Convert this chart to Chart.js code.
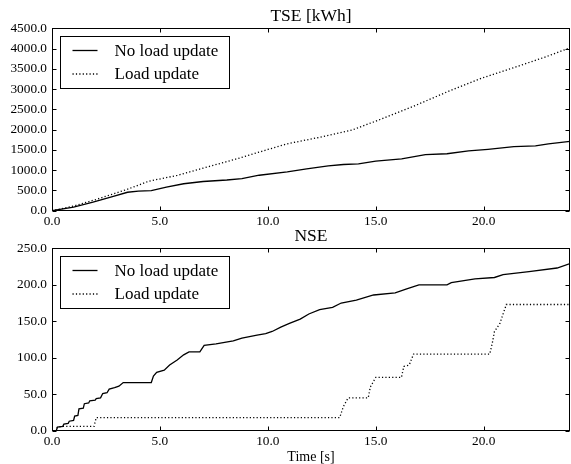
<!DOCTYPE html>
<html><head><meta charset="utf-8">
<script src="https://cdn.jsdelivr.net/npm/chart.js@4/dist/chart.umd.min.js"></script>
<style>
html,body{margin:0;padding:0;background:#fff;}
#wrap{position:relative;width:571px;height:464px;overflow:hidden;}
canvas{position:absolute;left:0;}
</style></head><body>
<div id="wrap">
<canvas id="c1" width="571" height="232" style="top:0"></canvas>
<canvas id="c2" width="571" height="244" style="top:220px"></canvas>
</div>
<script>
// ---- data ----
const seriesLabels = ["No load update", "Load update"];
const xTickValues = [0, 5, 10, 15, 20];
const tseTickValues = [0, 500, 1000, 1500, 2000, 2500, 3000, 3500, 4000, 4500];
const nseTickValues = [0, 50, 100, 150, 200, 250];

const tseNoUpdT = [0,1,1.9,2.8,3.5,4.0,4.6,5.3,6.1,7.0,8.1,8.8,9.6,10.9,11.8,12.8,13.5,14.2,15.0,16.2,17.3,18.3,19.3,20.2,21.4,22.4,23,24];
const tseNoUpdV = [0,90,210,345,455,485,495,580,665,720,757,790,875,960,1030,1105,1140,1155,1225,1280,1385,1405,1475,1515,1580,1600,1650,1710];
const tseUpdT = [0,1,2,2.7,3.5,4.5,5.8,7,8.5,10,10.9,12.3,13.9,15.2,16.7,18.3,19.8,21.4,22.9,24];
const tseUpdV = [0,115,270,390,530,730,870,1050,1270,1510,1650,1800,1990,2250,2565,2930,3250,3530,3800,4020];

const nseNoUpdT = [0,0.2,0.25,0.5,0.55,0.75,0.8,1.0,1.05,1.2,1.25,1.45,1.5,1.7,1.75,2.0,2.05,2.25,2.35,2.55,2.65,2.9,3.1,3.3,4.6,4.7,4.85,5.2,5.45,5.8,6.1,6.35,6.85,7.05,7.6,8.0,8.4,8.8,9.5,9.9,10.2,10.6,11.0,11.5,11.9,12.4,13.0,13.4,14.1,14.9,15.9,16.4,17.0,18.3,18.5,19.6,20.5,20.9,22.1,23.4,24];
const nseNoUpdV = [0,0,5,6,9,10,13,14,20,21,30,31,37,38,41,42,44,45,51,52,57,59,61,66,66,75,80,83,90,97,104,108,108,117,119,121,123,127,131,133,136,142,147,153,160,166,169,175,179,186,189,194,200,200,203,208,210,214,218,223,229];
const nseUpdT = [0,0.2,0.25,0.5,1.95,2.05,13.33,13.5,13.72,14.65,14.75,15.0,16.19,16.3,16.55,16.75,20.28,20.4,20.5,20.75,21.05,24];
const nseUpdV = [0,0,5,6,6,18,18,33,45,45,60,73,73,88,90,105,105,120,136,147,173,173];

// ---- helpers ----
const FONT = "'Liberation Serif', 'DejaVu Serif', serif";
const pts = (ts, vs) => ts.map((t, i) => ({x: t, y: vs[i]}));

const frameTicks = {
  id: 'frameTicks',
  afterDatasetsDraw(chart) {
    const {ctx, chartArea: a, scales: {x, y}} = chart;
    ctx.save();
    ctx.strokeStyle = '#000';
    ctx.lineWidth = 1;
    const L = Math.round(a.left) + 0.5, R = Math.round(a.right) - 0.5;
    const T = Math.round(a.top) + 0.5, B = Math.round(a.bottom) - 0.5;
    ctx.strokeRect(L, T, R - L, B - T);
    ctx.beginPath();
    x.ticks.forEach(t => {
      const px = Math.round(x.getPixelForValue(t.value)) + 0.5;
      ctx.moveTo(px, B); ctx.lineTo(px, B - 4);
      ctx.moveTo(px, T); ctx.lineTo(px, T + 4);
    });
    y.ticks.forEach(t => {
      const py = Math.round(y.getPixelForValue(t.value)) + 0.5;
      ctx.moveTo(L, py); ctx.lineTo(L + 4, py);
      ctx.moveTo(R, py); ctx.lineTo(R - 4, py);
    });
    ctx.stroke();
    ctx.restore();
  }
};

const boxLegend = {
  id: 'boxLegend',
  afterDraw(chart) {
    const {ctx, chartArea: a} = chart;
    const bx = Math.round(a.left + 8) + 0.5, by = Math.round(a.top + 8) + 0.5;
    const bw = 169, bh = 52;
    ctx.save();
    ctx.fillStyle = '#fff';
    ctx.fillRect(bx, by, bw, bh);
    ctx.strokeStyle = '#000';
    ctx.lineWidth = 1;
    ctx.strokeRect(bx, by, bw, bh);
    chart.data.datasets.forEach((ds, i) => {
      const yy = by + 14 + i * 23.5;
      ctx.beginPath();
      ctx.setLineDash(ds.borderDash || []);
      ctx.lineWidth = ds.borderWidth;
      ctx.strokeStyle = ds.borderColor;
      ctx.moveTo(bx + 12, yy); ctx.lineTo(bx + 37, yy);
      ctx.stroke();
      ctx.setLineDash([]);
      ctx.fillStyle = '#000';
      ctx.font = "17px " + FONT;
      ctx.textBaseline = 'middle';
      ctx.textAlign = 'left';
      ctx.fillText(ds.label, bx + 54, yy + 1);
    });
    ctx.restore();
  }
};

function makeChart(id, title, dsA, dsB, yMax, yTicks, canvasH, showXTitle) {
  return new Chart(document.getElementById(id), {
    type: 'line',
    data: {
      datasets: [
        {label: seriesLabels[0], data: dsA, borderColor: '#000', borderWidth: 1.3, pointRadius: 0, tension: 0, fill: false},
        {label: seriesLabels[1], data: dsB, borderColor: '#000', borderWidth: 1.3, borderDash: [1.2, 2.2], pointRadius: 0, tension: 0, fill: false}
      ]
    },
    options: {
      responsive: false,
      animation: false,
      devicePixelRatio: 1,
      layout: {padding: {left: 0, right: 1, top: 0, bottom: 0}},
      plugins: {
        legend: {display: false},
        tooltip: {enabled: false},
        title: {
          display: true, text: title, fullSize: false, color: '#000',
          font: {family: FONT, size: 17.5, weight: 'normal', lineHeight: 1.2},
          padding: {top: 6, bottom: 1.3}
        }
      },
      scales: {
        x: {
          type: 'linear', min: 0, max: 24,
          grid: {display: false, drawTicks: false},
          border: {display: false},
          afterBuildTicks: s => { s.ticks = xTickValues.map(v => ({value: v})); },
          afterFit: s => { s.height = canvasH - 210.7; },
          ticks: {color: '#000', padding: 3, maxRotation: 0, font: {family: FONT, size: 13.3}, callback: v => Number(v).toFixed(1)},
          title: {display: showXTitle, text: 'Time [s]', color: '#000', font: {family: FONT, size: 14, lineHeight: 1}, padding: {top: 0, bottom: 0}}
        },
        y: {
          type: 'linear', min: 0, max: yMax,
          grid: {display: false, drawTicks: false},
          border: {display: false},
          afterBuildTicks: s => { s.ticks = yTicks.map(v => ({value: v})); },
          afterFit: s => { s.width = 52; },
          ticks: {color: '#000', padding: 5, font: {family: FONT, size: 13.3}, callback: v => Number(v).toFixed(1)}
        }
      }
    },
    plugins: [frameTicks, boxLegend]
  });
}

makeChart('c1', 'TSE [kWh]', pts(tseNoUpdT, tseNoUpdV), pts(tseUpdT, tseUpdV), 4500, tseTickValues, 232, false);
makeChart('c2', 'NSE', pts(nseNoUpdT, nseNoUpdV), pts(nseUpdT, nseUpdV), 250, nseTickValues, 244, true);
</script>
</body></html>
